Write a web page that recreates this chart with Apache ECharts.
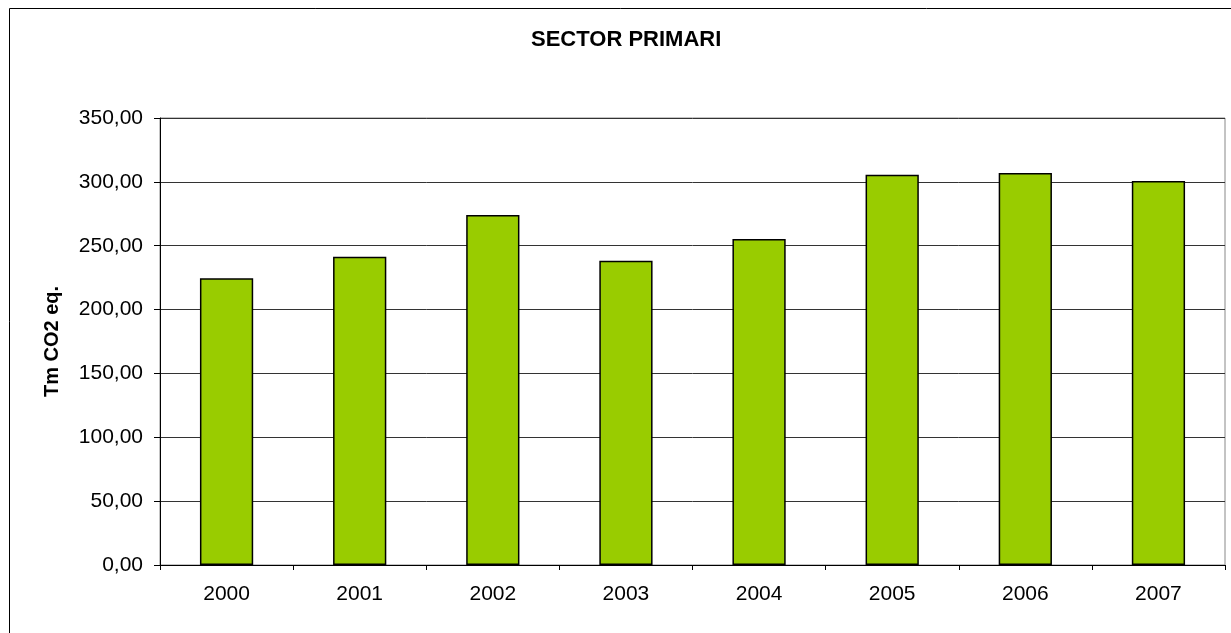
<!DOCTYPE html>
<html lang="ca">
<head>
  <meta charset="UTF-8">
  <title>Sector primari</title>
  <style>
    * { margin: 0; padding: 0; }
    body { background: #fff; }
    #chart { width: 1231px; height: 633px; }
  </style>
</head>
<body>
  <div id="chart"></div>
  <script src="https://cdn.jsdelivr.net/npm/echarts@6/dist/echarts.min.js"></script>
  <script>
    var years = ['2000', '2001', '2002', '2003', '2004', '2005', '2006', '2007'];
    var emissions = [224.5, 241.4, 274.0, 238.3, 255.3, 305.6, 307.0, 300.7];
    var yTicks = [0, 50, 100, 150, 200, 250, 300, 350];

    var myChart = echarts.init(document.getElementById('chart'));

    var option = {
      animation: false,
      backgroundColor: '#fff',
      textStyle: { fontFamily: 'Liberation Sans, Arial, sans-serif' },
      graphic: [{
        type: 'rect',
        shape: { x: 9.5, y: 8.5, width: 1300, height: 700 },
        style: { fill: 'none', stroke: '#000', lineWidth: 1 },
        silent: true
      }],
      title: {
        text: 'SECTOR PRIMARI',
        left: 531,
        top: 29,
        padding: 0,
        textStyle: { fontSize: 22, fontWeight: 'bold', color: '#000' }
      },
      grid: { left: 160, right: 6, top: 118, bottom: 68, show: true, borderColor: '#888', borderWidth: 1 },
      xAxis: {
        type: 'category',
        data: years,
        axisLine: { lineStyle: { color: '#000', width: 1 } },
        axisTick: { show: true, alignWithLabel: false, length: 5, lineStyle: { color: '#000' } },
        axisLabel: { fontSize: 21, color: '#000', margin: 19 }
      },
      yAxis: {
        type: 'value',
        min: yTicks[0],
        max: yTicks[yTicks.length - 1],
        interval: 50,
        name: 'Tm CO2 eq.',
        nameLocation: 'middle',
        nameGap: 98,
        nameTextStyle: { fontSize: 20, fontWeight: 'bold', color: '#000' },
        axisLine: { show: true, lineStyle: { color: '#000' } },
        axisTick: { show: true, length: 6, lineStyle: { color: '#000' } },
        axisLabel: {
          fontSize: 21, color: '#000', margin: 17,
          formatter: function (v) { return v.toFixed(2).replace('.', ','); }
        },
        splitLine: { lineStyle: { color: '#333', width: 1 } }
      },
      series: [{
        type: 'bar',
        data: emissions,
        barWidth: '40%',
        itemStyle: { color: '#99CC00', borderColor: '#000', borderWidth: 1.5 }
      }]
    };

    myChart.setOption(option);
  </script>
</body>
</html>
